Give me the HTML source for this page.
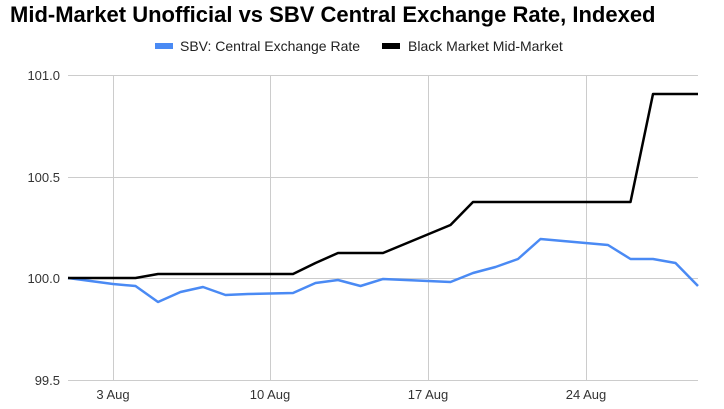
<!DOCTYPE html>
<html><head><meta charset="utf-8"><style>
body{margin:0;background:#fff;}
svg{display:block;font-family:"Liberation Sans",sans-serif;}
</style></head><body>
<svg width="724" height="409" viewBox="0 0 724 409">
<rect width="724" height="409" fill="#fff"/>
<text x="10" y="22" font-size="22" font-weight="bold" fill="#000">Mid-Market Unofficial vs SBV Central Exchange Rate, Indexed</text>
<rect x="155" y="43" width="18" height="6" fill="#4a8af4"/>
<text x="180" y="51" font-size="14" fill="#222">SBV: Central Exchange Rate</text>
<rect x="382" y="43" width="18" height="6" fill="#000"/>
<text x="408" y="51" font-size="14" fill="#222">Black Market Mid-Market</text>
<g stroke="#ccc" stroke-width="1">
<line x1="68" y1="75.5" x2="698" y2="75.5"/>
<line x1="68" y1="177.5" x2="698" y2="177.5"/>
<line x1="68" y1="278.5" x2="698" y2="278.5"/>
<line x1="68" y1="380.5" x2="698" y2="380.5"/>
<line x1="113.5" y1="75" x2="113.5" y2="380"/>
<line x1="270.5" y1="75" x2="270.5" y2="380"/>
<line x1="428.5" y1="75" x2="428.5" y2="380"/>
<line x1="586.5" y1="75" x2="586.5" y2="380"/>
</g>
<g font-size="13" fill="#333" text-anchor="end">
<text x="60" y="80">101.0</text>
<text x="60" y="182">100.5</text>
<text x="60" y="283">100.0</text>
<text x="60" y="385">99.5</text>
</g>
<g font-size="13" fill="#333" text-anchor="middle">
<text x="113" y="399">3 Aug</text>
<text x="270" y="399">10 Aug</text>
<text x="428" y="399">17 Aug</text>
<text x="586" y="399">24 Aug</text>
</g>
<polyline fill="none" stroke="#4a8af4" stroke-width="2.5" stroke-linejoin="round" points="68,278 90.5,281 113,284 135.5,286 158,302 180.5,292 203,287 225.5,295 248,294 270.5,293.5 293,293 315.5,283 338,280 360.5,286 383,279 405.5,280 428,281 450.5,282 473,273 495.5,267 518,259 540.5,239 563,241 585.5,243 608,245 630.5,259 653,259 675.5,263 698,286"/>
<polyline fill="none" stroke="#000" stroke-width="2.5" stroke-linejoin="round" points="68,278 135.5,278 158,274 293,274 315.5,263 338,253 383,253 450.5,225 473,202 630.5,202 653,94 698,94"/>
</svg>
</body></html>
